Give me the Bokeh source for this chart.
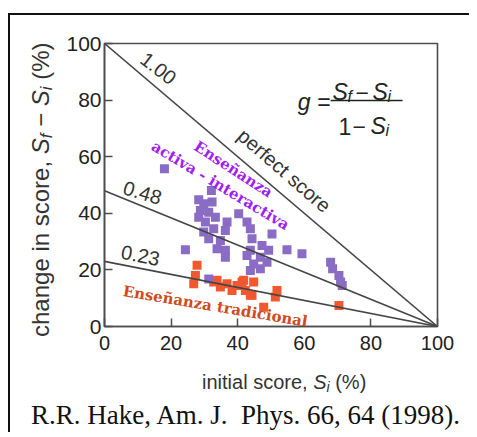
import math
from bokeh.plotting import figure
from bokeh.models import Label, FixedTicker, Spacer, Div
from bokeh.layouts import column, row
from bokeh.embed import file_html
from bokeh.resources import INLINE

# ---------------- data ----------------
interactive_x = [18.0, 32.1, 28.3, 29.8, 32.3, 28.8, 31.3, 28.3, 33.3, 30.3, 36.8, 40.3,
                 42.8, 29.8, 32.8, 36.3, 43.8, 31.3, 34.8, 50.3, 44.3, 33.8, 36.3, 47.3,
                 43.8, 49.3, 54.8, 59.3, 24.3, 36.3, 42.8, 46.8, 48.8, 44.8, 43.8, 46.8,
                 67.9, 68.5, 70.4, 70.9, 71.4, 31.3]
interactive_y = [55.7, 48.1, 44.8, 43.4, 44.0, 41.0, 40.4, 38.6, 38.6, 36.9, 36.9, 39.8,
                 36.9, 33.4, 34.5, 33.9, 34.5, 31.0, 30.4, 32.7, 31.0, 27.5, 26.9, 28.6,
                 26.9, 26.9, 27.1, 25.7, 27.1, 24.5, 25.1, 24.5, 22.7, 22.1, 19.8, 20.4,
                 22.7, 20.4, 18.0, 15.7, 14.5, 16.8]

traditional_x = [27.8, 27.3, 26.8, 33.8, 36.8, 38.3, 41.3, 42.3, 44.8, 44.3, 51.8, 51.3,
                 47.8, 34.8, 39.8, 41.8, 43.8, 32.8, 70.4]
traditional_y = [21.6, 18.0, 15.1, 16.3, 15.1, 12.7, 15.7, 12.7, 15.7, 11.0, 12.7, 10.4,
                 6.8, 14.0, 14.5, 16.3, 11.0, 15.7, 7.4]

gain_values = [1.00, 0.48, 0.23]
gain_labels = ["1.00", "0.48", "0.23"]
x_ticks = [0, 20, 40, 60, 80, 100]
y_ticks = [0, 20, 40, 60, 80, 100]

y_label_html = ('change in score, <i>S</i><span class="sb"><i>f</i></span> − '
                '<i>S</i><span class="sb"><i>i</i></span> (%)')
x_label_html = 'initial score, <i>S</i><span class="sb"><i>i</i></span> (%)'
caption_text = "R.R. Hake, Am. J.&nbsp; Phys. 66, 64 (1998)."

deg = math.pi / 180
TXT = "#333333"


def lab(fig, x, y, text, size, font="Liberation Sans", color="#222222", angle=0.0,
        align="center", baseline="middle", style="normal"):
    fig.add_layout(Label(x=x, y=y, text=text, text_font=font, text_font_size=size,
                         text_color=color, angle=angle, text_align=align,
                         text_baseline=baseline, text_font_style=style))

# ---------------- main figure ----------------
p = figure(width=411, height=345, x_range=(0, 100), y_range=(0, 100),
           output_backend="svg", toolbar_location=None,
           min_border_left=46, min_border_top=28, min_border_right=32, min_border_bottom=34,
           background_fill_color="white", border_fill_color=None)
p.grid.visible = False
p.outline_line_color = "#4d4d4d"
p.outline_line_width = 1.6

for ax, ticks in ((p.xaxis, x_ticks), (p.yaxis, y_ticks)):
    ax.ticker = FixedTicker(ticks=ticks)
    ax.major_tick_in = 8
    ax.major_tick_out = 0
    ax.minor_tick_line_color = None
    ax.axis_line_color = "#4d4d4d"
    ax.axis_line_width = 1.6
    ax.major_tick_line_color = "#4d4d4d"
    ax.major_tick_line_width = 1.5
    ax.major_label_text_font = "Liberation Sans"
    ax.major_label_text_color = "#222222"
p.xaxis.major_label_text_font_size = "20px"
p.yaxis.major_label_text_font_size = "21px"
p.xaxis.major_label_standoff = 9
p.yaxis.major_label_standoff = 3

p.scatter(traditional_x, traditional_y, marker="square", size=9,
          fill_color="#f2582f", line_color=None)
p.scatter(interactive_x, interactive_y, marker="square", size=9,
          fill_color="#8a6cc4", line_color=None)

for g in gain_values:
    p.line([0, 100], [g * 100, 0], line_color="#454545", line_width=1.6)

lab(p, 16.2, 91.2, gain_labels[0], "20px", color=TXT, angle=-38 * deg)
lab(p, 11.4, 47.3, gain_labels[1], "20px", color=TXT, angle=-17 * deg)
lab(p, 10.8, 25.1, gain_labels[2], "20px", color=TXT, angle=-11 * deg)
lab(p, 54.0, 55.1, "perfect score", "20px", color=TXT, angle=-41 * deg)

lab(p, 38.7, 55.5, "Enseñanza", "15px", font="DejaVu Serif", color="#a01ff0",
    angle=-33 * deg, style="bold")
lab(p, 34.8, 49.8, "activa - interactiva", "15px", font="DejaVu Serif", color="#a01ff0",
    angle=-31 * deg, style="bold")
lab(p, 33.3, 7.1, "Enseñanza tradicional", "15px", font="DejaVu Serif", color="#cf4a1e",
    angle=-9.5 * deg, style="bold")

# formula g = (Sf - Si) / (1 - Si)
lab(p, 58.0, 79.5, "g", "23px", style="italic", align="left")
lab(p, 63.9, 79.5, "=", "23px", align="left")
lab(p, 68.5, 82.7, "S", "23px", style="italic", align="left", baseline="alphabetic")
lab(p, 73.0, 81.3, "f", "16px", style="italic", align="left", baseline="alphabetic")
lab(p, 75.4, 82.7, "−", "23px", align="left", baseline="alphabetic")
lab(p, 80.5, 82.7, "S", "23px", style="italic", align="left", baseline="alphabetic")
lab(p, 85.0, 81.3, "i", "16px", style="italic", align="left", baseline="alphabetic")
p.segment(x0=[67.9], y0=[79.9], x1=[89.5], y1=[79.9], line_color="#222222", line_width=1.5)
lab(p, 70.3, 70.7, "1", "23px", align="left", baseline="alphabetic")
lab(p, 74.5, 70.7, "−", "23px", align="left", baseline="alphabetic")
lab(p, 79.9, 70.7, "S", "23px", style="italic", align="left", baseline="alphabetic")
lab(p, 84.4, 69.3, "i", "16px", style="italic", align="left", baseline="alphabetic")

# ---------------- left strip: HTML texts (y label, x label, caption) ----------------
sans = "font-family:'Liberation Sans',Arial,sans-serif;color:#333;white-space:nowrap;"
html = (
    '<style>.sb{position:relative;top:0.2em;font-size:0.7em;}</style>'
    '<div style="position:relative;width:48px;height:417px;overflow:visible;">'
    '<div style="position:absolute;left:19px;top:322px;transform:rotate(-90deg);'
    'transform-origin:0 0;font-size:24px;line-height:24px;' + sans + '">'
    + y_label_html + '</div>'
    '<div style="position:absolute;left:192px;top:357px;font-size:20px;line-height:20px;'
    + sans + '">' + x_label_html + '</div>'
    '<div style="position:absolute;left:6px;width:459px;top:387px;text-align:center;'
    "font-family:'Liberation Serif',serif;font-size:27px;line-height:27px;color:#111;"
    'white-space:nowrap;">' + caption_text + '</div>'
    '</div>'
)
L = Div(text=html, width=48, height=417, margin=0, styles={"overflow": "visible"})

inner = row(L, p, styles={"border-left": "2px solid #111", "border-top": "2px solid #111"})
layout = column(Spacer(width=469, height=13), row(Spacer(width=8, height=10), inner))

open("out.html", "w").write(file_html(layout, INLINE))
